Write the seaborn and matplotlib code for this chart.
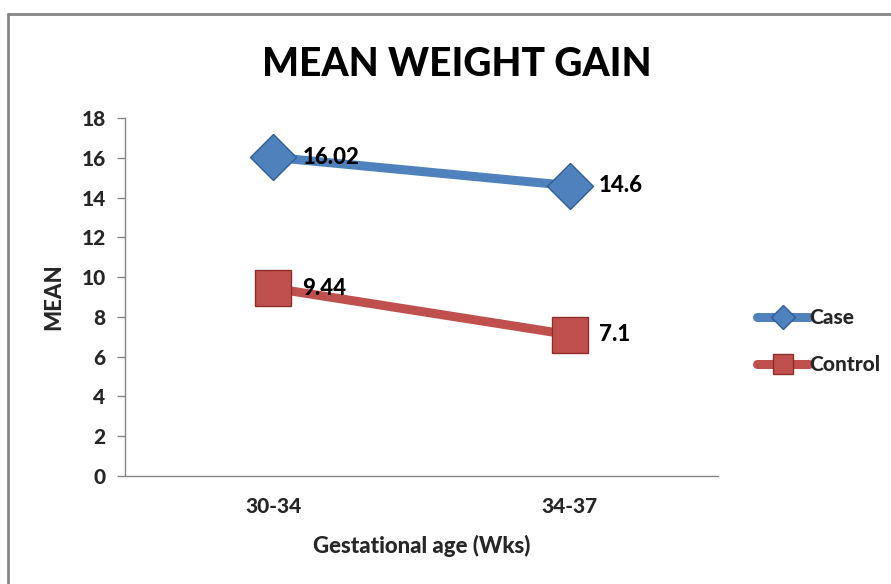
import matplotlib
matplotlib.use("Agg")
import matplotlib.pyplot as plt
from matplotlib.lines import Line2D
import seaborn as sns
import pandas as pd

# Chart data
age_groups = ["30-34", "34-37"]
case_means = [16.02, 14.6]
control_means = [9.44, 7.1]
series_names = ["Case", "Control"]
y_ticks = [0, 2, 4, 6, 8, 10, 12, 14, 16, 18]

colors = {"Case": "#4F81BD", "Control": "#C0504D"}
edge_colors = {"Case": "#2F5E96", "Control": "#8E2E2B"}
markers = {"Case": "D", "Control": "s"}
sizes = {"Case": 23, "Control": 26}

df = pd.DataFrame({
    "age": age_groups * 2,
    "x": list(range(len(age_groups))) * 2,
    "mean": case_means + control_means,
    "group": [series_names[0]] * len(age_groups) + [series_names[1]] * len(age_groups),
})

sns.set_theme(style="white")
plt.rcParams["font.family"] = ["Lato", "DejaVu Sans"]
W = 900  # heavy text weight

fig = plt.figure(figsize=(8.91, 5.84), dpi=100)
ax = fig.add_axes([0.1403, 0.185, 0.6655, 0.613])

sns.lineplot(data=df, x="x", y="mean", hue="group", palette=colors,
             linewidth=6.5, legend=False, ax=ax, zorder=2)

# markers drawn per series so each gets its own size and edge
for name in series_names:
    sub = df[df["group"] == name]
    ax.plot(sub["x"], sub["mean"], linestyle="none", marker=markers[name],
            markersize=sizes[name], markerfacecolor=colors[name],
            markeredgecolor=edge_colors[name], markeredgewidth=1.0, zorder=3)
    for xv, yv in zip(sub["x"], sub["mean"]):
        ax.annotate(f"{yv:g}", (xv, yv), xytext=(21, 0), textcoords="offset points",
                    va="center", ha="left", fontsize=16, fontweight=W,
                    color="black", zorder=4)

ax.set_xlim(-0.5, len(age_groups) - 0.5)
ax.set_ylim(0, 18)
ax.set_yticks(y_ticks)
ax.set_xticks(range(len(age_groups)))
ax.set_xticklabels(age_groups)

for side in ["top", "right"]:
    ax.spines[side].set_visible(False)
for side in ["left", "bottom"]:
    ax.spines[side].set_color("#868686")
    ax.spines[side].set_linewidth(1.0)

ax.tick_params(axis="y", which="major", direction="out", length=6, width=1,
               color="#868686", labelsize=15, pad=8, left=True)
ax.tick_params(axis="x", which="major", length=0, labelsize=15, pad=15)
for lab in ax.get_xticklabels() + ax.get_yticklabels():
    lab.set_fontweight(W)

ax.set_xlabel("Gestational age (Wks)", fontsize=16, fontweight=W, labelpad=14)
ax.set_ylabel("MEAN", fontsize=16, fontweight=W, va="center")
ax.yaxis.set_label_coords(-0.12, 0.5)

fig.text(0.5125, 0.889, "MEAN WEIGHT GAIN", ha="center", va="center",
         fontsize=28, fontweight=W, color="black")

handles = [Line2D([0], [0], color=colors[n], linewidth=6.5, marker=markers[n],
                  markersize=sizes[n] * 0.55, markerfacecolor=colors[n],
                  markeredgecolor=edge_colors[n], solid_capstyle="round")
           for n in series_names]
fig.legend(handles, series_names, loc="center left", bbox_to_anchor=(0.829, 0.416),
           frameon=False, handlelength=2.5, handletextpad=0.0,
           labelspacing=1.35, prop={"weight": W, "size": 15})

# chart frame
fig.add_artist(Line2D([0.009, 1.0], [0.976, 0.976], transform=fig.transFigure,
                      color="#868686", linewidth=2.0))
fig.add_artist(Line2D([0.009, 0.009], [0.0, 0.976], transform=fig.transFigure,
                      color="#868686", linewidth=2.0))

fig.savefig("out.png", dpi=100, facecolor="white")
